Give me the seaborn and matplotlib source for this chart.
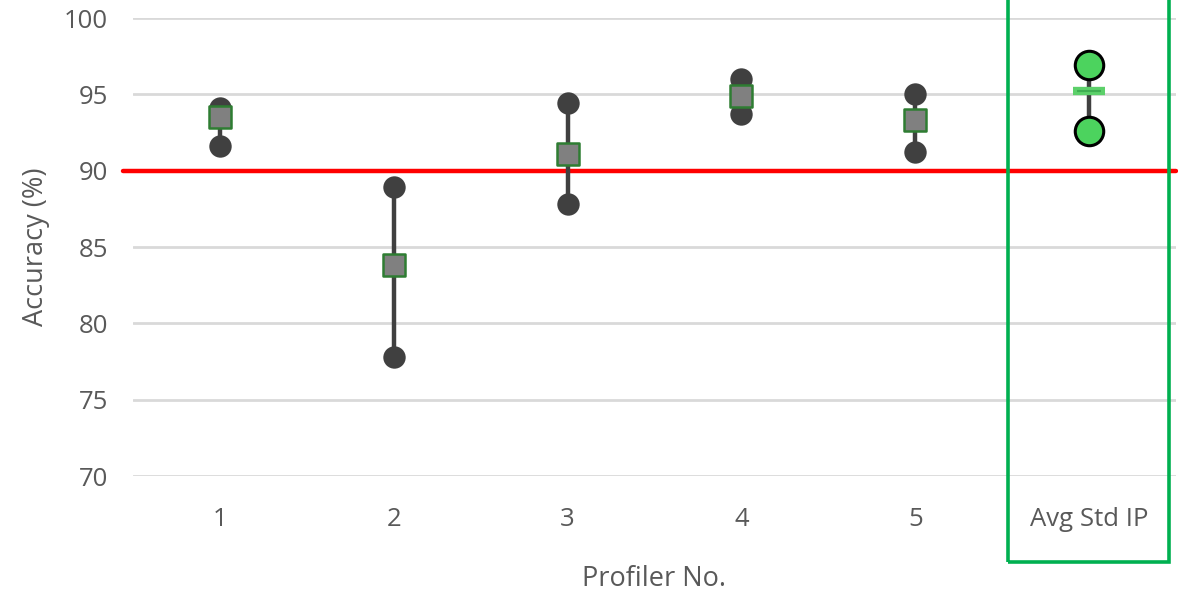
import matplotlib
matplotlib.use("Agg")
import matplotlib.pyplot as plt
import matplotlib.patches as mpatches
import seaborn as sns
import pandas as pd

categories = ["1", "2", "3", "4", "5", "Avg Std IP"]
max_vals = [94.1, 88.9, 94.4, 96.0, 95.0, 96.9]
mean_vals = [93.5, 83.8, 91.1, 94.9, 93.3, 95.2]
min_vals = [91.6, 77.8, 87.8, 93.7, 91.2, 92.6]
threshold = 90

sns.set_theme(style="white")
plt.rcParams['font.family'] = ['Open Sans', 'DejaVu Sans']

fig = plt.figure(figsize=(11.78, 6.05), dpi=100)
ax = fig.add_axes([133/1178, 1-476/605, (1176-133)/1178, (476-18)/605])

pos = list(range(len(categories)))
df = pd.DataFrame({"pos": pos, "cat": categories, "max": max_vals,
                   "mean": mean_vals, "min": min_vals})
prof = df.iloc[:5]
avg = df.iloc[5:]

ax.set_ylim(70, 100)
ax.set_xlim(-0.5, len(categories) - 0.5)
ax.set_yticks([70, 75, 80, 85, 90, 95, 100])
ax.yaxis.grid(True, color="#d9d9d9", linewidth=2)
ax.set_axisbelow(True)
for s in ax.spines.values():
    s.set_visible(False)

# threshold line (extends slightly left of plot area)
ax.plot([-0.56, len(categories) - 0.5], [threshold, threshold], color="#ff0000",
        linewidth=3.2, clip_on=False, zorder=2)

# range lines
ax.vlines(df["pos"], df["min"], df["max"], color="#404040", linewidth=3.2, zorder=3)

# profiler min/max circles
for col in ["max", "min"]:
    sns.scatterplot(data=prof, x="pos", y=col, ax=ax, marker="o", s=260,
                    color="#404040", edgecolor="#404040", linewidth=0, zorder=4, legend=False)
# profiler mean squares
sns.scatterplot(data=prof, x="pos", y="mean", ax=ax, marker="s", s=250,
                color="#808080", edgecolor="#2e7d32", linewidth=1.8, zorder=5, legend=False)

# Avg Std IP
for col in ["max", "min"]:
    sns.scatterplot(data=avg, x="pos", y=col, ax=ax, marker="o", s=420,
                    color="#4cd35e", edgecolor="#000000", linewidth=2.2, zorder=4, legend=False)
sns.scatterplot(data=avg, x="pos", y="mean", ax=ax, marker="_", s=520,
                color="#5cd06a", linewidth=6, zorder=5, legend=False)
sns.scatterplot(data=avg, x="pos", y="mean", ax=ax, marker="_", s=300,
                color="#3fae52", linewidth=1.5, zorder=6, legend=False)

ax.set_xticks(pos)
ax.set_xticklabels(categories)
ax.tick_params(axis="both", labelsize=18.5, colors="#595959", length=0)
ax.tick_params(axis="x", pad=22)
ax.tick_params(axis="y", pad=18)
ax.set_xlabel("Profiler No.", fontsize=19.5, color="#595959", labelpad=24)
ax.set_ylabel("Accuracy (%)", fontsize=19.5, color="#595959", labelpad=10)

# green highlight box
rect = mpatches.Rectangle((1008/1178, 1-562/605), (1169-1008)/1178, 1.5, transform=fig.transFigure,
                          fill=False, edgecolor="#00b050", linewidth=2.6, clip_on=False)
fig.add_artist(rect)

fig.savefig("out.png", dpi=100)
